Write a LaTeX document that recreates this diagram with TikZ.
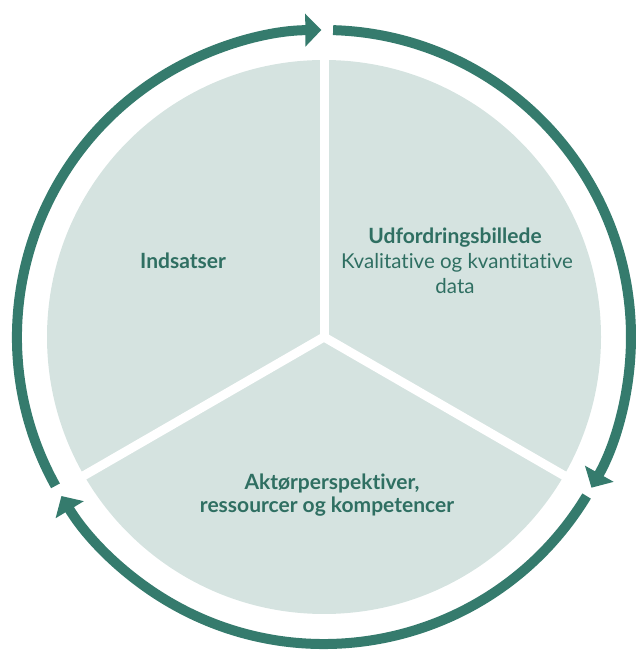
\documentclass[tikz,border=0pt]{standalone}
\usepackage{fontspec}
\setmainfont{Lato}[Ligatures=NoCommon]
\usetikzlibrary{arrows.meta}
\definecolor{ringgreen}{HTML}{357B6D}
\definecolor{textgreen}{HTML}{2F6F62}
\definecolor{piefill}{HTML}{D5E3E0}
\tikzset{
  ringarc/.style={draw=ringgreen, line width=10pt, -{Triangle[length=16pt,width=32pt]}},
  boldlabel/.style={anchor=base, text=textgreen, font=\fontsize{21}{25}\selectfont\bfseries, inner sep=0pt},
  plainlabel/.style={anchor=base, text=textgreen, font=\fontsize{20.5}{25}\selectfont, inner sep=0pt},
  sepline/.style={draw=white, line width=9pt}
}
\begin{document}
\begin{tikzpicture}[x=1pt,y=1pt]
\useasboundingbox (0,0) rectangle (635,650);
\coordinate (c) at (324,313);
% pie
\fill[piefill] (c) circle[radius=277];
\draw[sepline] (c) -- ++(90:290);
\draw[sepline] (c) -- ++(210:290);
\draw[sepline] (c) -- ++(330:290);
% ring arrows
\draw[ringarc] (c) ++(209:307) arc[start angle=209, end angle=90.5, radius=307];
\draw[ringarc] (c) ++(88.3:307) arc[start angle=88.3, end angle=-29.4, radius=307];
\draw[ringarc] (c) ++(-31.2:307) arc[start angle=-31.2, end angle=-148.8, radius=307];
% labels
\node[boldlabel] (ind) at (183,381) {Indsatser};
\node[boldlabel] (u1) at (455,406) {Udfordringsbillede};
\node[plainlabel] (u2) at (457,381) {Kvalitative og kvantitative};
\node[plainlabel] (u3) at (455,356) {data};
\node[boldlabel] (a1) at (332,160) {Aktørperspektiver,};
\node[boldlabel] (a2) at (327,137) {ressourcer og kompetencer};
\end{tikzpicture}
\end{document}
